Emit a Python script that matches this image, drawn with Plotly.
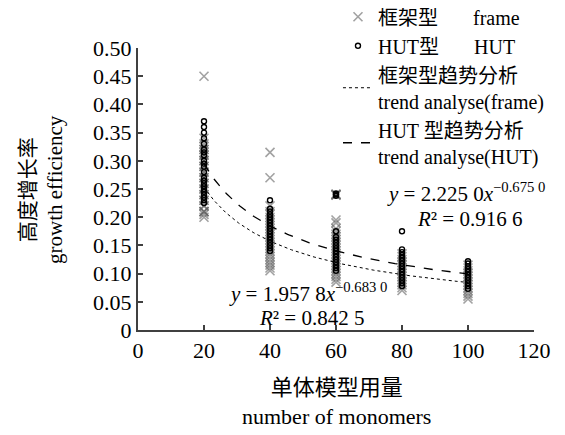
import numpy as np
import plotly.graph_objects as go

# ---------------- data ----------------
frame_20 = [0.45, 0.34, 0.33, 0.325, 0.32, 0.32, 0.315, 0.31, 0.31, 0.30, 0.30, 0.29, 0.29, 0.28,
            0.28, 0.27, 0.27, 0.26, 0.26, 0.25, 0.25, 0.24, 0.24, 0.23, 0.23, 0.22, 0.22, 0.21,
            0.21, 0.21, 0.205, 0.20]
hut_20 = [0.37, 0.36, 0.35, 0.34, 0.33, 0.32, 0.315, 0.31, 0.30, 0.295, 0.29, 0.28, 0.27, 0.265,
          0.26, 0.255, 0.25, 0.245, 0.24, 0.235, 0.23, 0.225]
frame_40 = [0.315, 0.27, 0.22, 0.21, 0.205, 0.20, 0.195, 0.19, 0.185, 0.18, 0.175, 0.17, 0.165,
            0.16, 0.155, 0.15, 0.145, 0.14, 0.135, 0.13, 0.125, 0.12, 0.115, 0.11, 0.105]
hut_40 = [0.23, 0.215, 0.21, 0.205, 0.20, 0.195, 0.19, 0.185, 0.18, 0.175, 0.17, 0.165, 0.16,
          0.155, 0.15, 0.145, 0.14]
frame_60 = [0.24, 0.241, 0.239, 0.24, 0.195, 0.19, 0.18, 0.175, 0.17, 0.165, 0.16, 0.155, 0.15,
            0.145, 0.14, 0.135, 0.13, 0.125, 0.12, 0.115, 0.11, 0.105, 0.10, 0.095, 0.09, 0.085]
hut_60 = [0.242, 0.24, 0.238, 0.241, 0.175, 0.165, 0.16, 0.155, 0.15, 0.145, 0.14, 0.135, 0.13,
          0.125, 0.12, 0.115, 0.11, 0.105]
frame_80 = [0.135, 0.13, 0.125, 0.12, 0.115, 0.11, 0.105, 0.10, 0.095, 0.09, 0.085, 0.08, 0.075, 0.07]
hut_80 = [0.175, 0.143, 0.138, 0.133, 0.128, 0.123, 0.118, 0.113, 0.108, 0.103, 0.098, 0.093,
          0.088, 0.083, 0.078]
frame_100 = [0.115, 0.11, 0.105, 0.10, 0.095, 0.09, 0.085, 0.08, 0.075, 0.07, 0.065, 0.06, 0.055]
hut_100 = [0.122, 0.118, 0.113, 0.108, 0.103, 0.098, 0.093, 0.088, 0.083, 0.078, 0.073]

monomer_counts = [20, 40, 60, 80, 100]

# fitted power-law trends printed on the chart: y = a * x^b
frame_a, frame_b = 1.9578, -0.6830
hut_a, hut_b = 2.2250, -0.6750

x_tickvals = [0, 20, 40, 60, 80, 100, 120]
y_tickvals = [0, 0.05, 0.10, 0.15, 0.20, 0.25, 0.30, 0.35, 0.40, 0.45, 0.50]
y_ticktext = ["0", "0.05", "0.10", "0.15", "0.20", "0.25", "0.30", "0.35", "0.40", "0.45", "0.50"]

# ---------------- build ----------------
frame_groups = [frame_20, frame_40, frame_60, frame_80, frame_100]
hut_groups = [hut_20, hut_40, hut_60, hut_80, hut_100]

fx, fy, hx, hy = [], [], [], []
for c, g in zip(monomer_counts, frame_groups):
    fx += [c] * len(g); fy += g
for c, g in zip(monomer_counts, hut_groups):
    hx += [c] * len(g); hy += g

xt = np.linspace(20, 100, 200)
frame_trend = frame_a * xt ** frame_b
hut_trend = hut_a * xt ** hut_b

FONT = "Liberation Serif, Times New Roman, Noto Sans CJK SC, serif"
sp = "\u00a0" * 7

fig = go.Figure()
fig.add_trace(go.Scatter(x=fx, y=fy, mode="markers", name="框架型" + sp + "frame",
                         marker=dict(symbol="x-thin-open", size=9, color="rgba(100,100,100,0.6)",
                                     line=dict(color="rgba(100,100,100,0.6)", width=1.6))))
fig.add_trace(go.Scatter(x=hx, y=hy, mode="markers", name="HUT型" + sp + "HUT",
                         marker=dict(symbol="circle-open", size=5, color="black",
                                     line=dict(color="black", width=1.4))))
fig.add_trace(go.Scatter(x=xt, y=frame_trend, mode="lines",
                         name="框架型趋势分析<br>trend analyse(frame)",
                         line=dict(color="black", width=1, dash="dot")))
fig.add_trace(go.Scatter(x=xt, y=hut_trend, mode="lines",
                         name="HUT 型趋势分析<br>trend analyse(HUT)",
                         line=dict(color="black", width=1.3, dash="dash")))

axis_common = dict(showgrid=False, zeroline=False, showline=True, linecolor="#404040",
                   linewidth=2, ticks="inside", ticklen=5, tickcolor="#404040", tickwidth=1.5,
                   tickfont=dict(family=FONT, size=22, color="black"))
fig.update_xaxes(range=[0, 120], tickvals=x_tickvals, **axis_common)
fig.update_yaxes(range=[0, 0.5], tickvals=y_tickvals, ticktext=y_ticktext, **axis_common)

fig.add_annotation(xref="paper", yref="paper", x=-0.245, y=0.50, textangle=-90,
                   xanchor="center", yanchor="middle",
                   text="高度增长率<br>growth efficiency", showarrow=False,
                   font=dict(family=FONT, size=21, color="black"))
fig.add_annotation(xref="paper", yref="paper", x=0.5, y=-0.255, xanchor="center",
                   yanchor="middle",
                   text="单体模型用量<br>number of monomers", showarrow=False,
                   font=dict(family=FONT, size=22, color="black"))

fig.add_annotation(x=99.5, y=0.244, text="<i>y</i> = 2.225 0<i>x</i><sup>−0.675 0</sup>",
                   showarrow=False, font=dict(family=FONT, size=21, color="black"))
fig.add_annotation(x=100.4, y=0.197, text="<i>R</i>² = 0.916 6",
                   showarrow=False, font=dict(family=FONT, size=21, color="black"))
fig.add_annotation(x=51.5, y=0.066, text="<i>y</i> = 1.957 8<i>x</i><sup>−0.683 0</sup>",
                   showarrow=False, font=dict(family=FONT, size=21, color="black"))
fig.add_annotation(x=52.5, y=0.021, text="<i>R</i>² = 0.842 5",
                   showarrow=False, font=dict(family=FONT, size=21, color="black"))

# page body has an 8px margin: size the figure so the plot lands where the reference has it
fig.update_layout(
    width=557, height=427,
    margin=dict(l=130, r=31, t=40, b=105, autoexpand=False),
    paper_bgcolor="white", plot_bgcolor="white",
    font=dict(family=FONT, size=20, color="black"),
    showlegend=True,
    legend=dict(x=0.505, y=1.18, xanchor="left", yanchor="top", bgcolor="rgba(0,0,0,0)",
                font=dict(family=FONT, size=20, color="black"), tracegroupgap=0,
                itemwidth=30),
)

fig.write_html("out.html")
